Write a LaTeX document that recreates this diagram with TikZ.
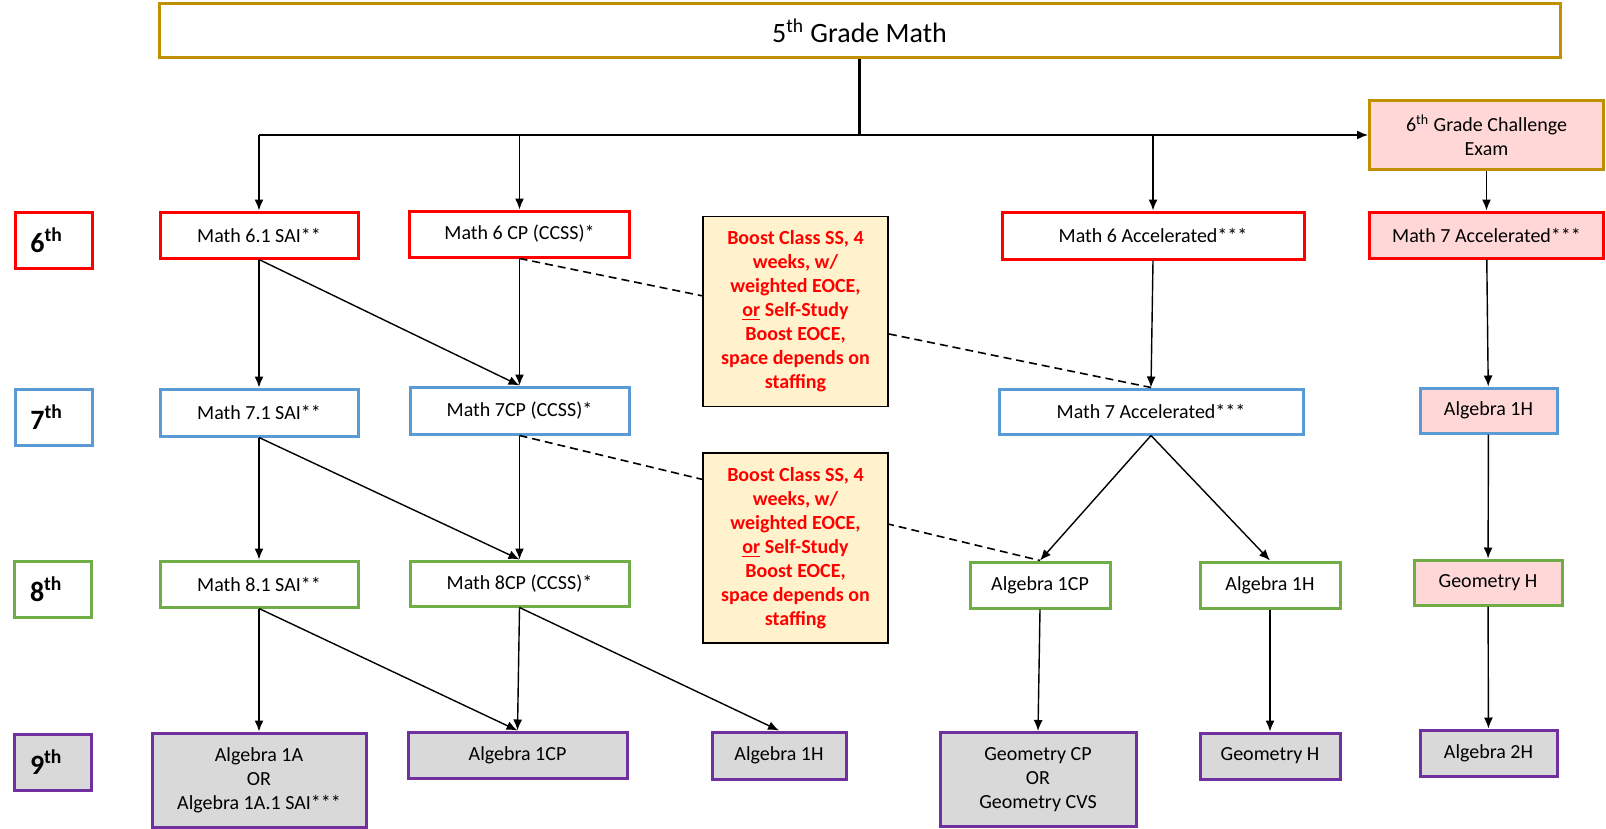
\documentclass[tikz,border=0pt]{standalone}
\usepackage{fontspec}
\setmainfont{Carlito}
\usetikzlibrary{arrows.meta}

\definecolor{ouro}{HTML}{BF9000}
\definecolor{rowred}{HTML}{FF0000}
\definecolor{rowblue}{HTML}{5B9BD5}
\definecolor{rowgreen}{HTML}{70AD47}
\definecolor{rowpurple}{HTML}{7030A0}
\definecolor{pinkfill}{HTML}{FFD7D7}
\definecolor{greyfill}{HTML}{D9D9D9}
\definecolor{boostfill}{HTML}{FFF2CC}

\begin{document}
\begin{tikzpicture}[x=0.5pt, y=-0.5pt,
        every node/.style={font=\fontsize{10}{12}\selectfont, align=center, inner sep=0pt},
        wh/.style 2 args={minimum width={#1*0.5pt}, minimum height={#2*0.5pt}},
        box/.style={draw, line width=1.5pt, fill=white},
        redbox/.style={box, draw=rowred},
        bluebox/.style={box, draw=rowblue},
        greenbox/.style={box, draw=rowgreen},
        purplebox/.style={box, draw=rowpurple, fill=greyfill},
        grade/.style={box, wh={77}{56}, text width=23pt, align=left, inner xsep=7.5pt,
            font=\fontsize{14}{16}\selectfont\bfseries},
        boost/.style={draw, line width=0.8pt, fill=boostfill, wh={185}{190}, text=rowred,
            font=\fontsize{10}{12}\selectfont\bfseries},
        arr/.style={-{Latex[length=5.5pt,width=4.5pt]}, line width=0.7pt},
        hubline/.style={line width=1.2pt},
        boostline/.style={line width=0.8pt, dash pattern=on 4pt off 2.5pt}]
        \useasboundingbox (0,0) rectangle (1606,829);

        \node[box, draw=ouro, wh={1401}{54}, font=\fontsize{14}{16}\selectfont] (top) at (859.5,31) {5\textsuperscript{th} Grade Math};
        \node[box, draw=ouro, fill=pinkfill, wh={234}{69}] (exam) at (1486.5,135) {6\textsuperscript{th} Grade Challenge\\Exam};

        \node[grade, draw=rowred] (g6) at (53.5,240) {6\textsuperscript{th}};
        \node[grade, draw=rowblue] (g7) at (53.5,417) {7\textsuperscript{th}};
        \node[grade, draw=rowgreen] (g8) at (53,589) {8\textsuperscript{th}};
        \node[grade, draw=rowpurple, fill=greyfill] (g9) at (53,762) {9\textsuperscript{th}};

        \node[redbox, wh={198}{46}] (m61) at (259,235) {Math 6.1 SAI**};
        \node[redbox, wh={220}{46}] (m6cp) at (519.5,234) {Math 6 CP (CCSS)*};
        \node[redbox, wh={302}{47}] (m6acc) at (1153,235.5) {Math 6 Accelerated***};
        \node[redbox, fill=pinkfill, wh={234}{46}] (m7accr) at (1486.5,235) {Math 7 Accelerated***};

        \node[bluebox, wh={198}{47}] (m71) at (259,412.5) {Math 7.1 SAI**};
        \node[bluebox, wh={219}{47}] (m7cp) at (519.5,410.5) {Math 7CP (CCSS)*};
        \node[bluebox, wh={304}{45}] (m7acc) at (1151,411.5) {Math 7 Accelerated***};
        \node[bluebox, fill=pinkfill, wh={137}{45}] (alg1hp) at (1488.5,410.5) {Algebra 1H};

        \node[greenbox, wh={198}{46}] (m81) at (259,584) {Math 8.1 SAI**};
        \node[greenbox, wh={219}{45}] (m8cp) at (519.5,583.5) {Math 8CP (CCSS)*};
        \node[greenbox, wh={140}{46}] (alg1cpg) at (1040,585) {Algebra 1CP};
        \node[greenbox, wh={140}{46}] (alg1hg) at (1270,585) {Algebra 1H};
        \node[greenbox, fill=pinkfill, wh={148}{45}] (geohp) at (1488,582.5) {Geometry H};

        \node[purplebox, wh={214}{94}] (alg1a) at (259,780) {Algebra 1A\\OR\\Algebra 1A.1 SAI***};
        \node[purplebox, wh={219}{46}] (alg1cpn) at (517.5,755) {Algebra 1CP};
        \node[purplebox, wh={134}{47}] (alg1hn) at (779,755.5) {Algebra 1H};
        \node[purplebox, wh={196}{94}] (geocp) at (1038,779.5) {Geometry CP\\OR\\Geometry CVS};
        \node[purplebox, wh={140}{46}] (geohn) at (1270,756) {Geometry H};
        \node[purplebox, wh={137}{46}] (alg2h) at (1488.5,753) {Algebra 2H};

        \draw[hubline] (top.south) -- (top.south |- exam.west);
        \draw[hubline, arr] (m61.north |- exam.west) -- (exam.west);
        \draw[arr] (m61.north |- exam.west) -- (m61.north);
        \draw[arr] (m6cp.north |- exam.west) -- (m6cp.north);
        \draw[arr] (m6acc.north |- exam.west) -- (m6acc.north);
        \draw[arr] (exam) -- (m7accr);

        \draw[boostline] (m6cp.south) -- (m7acc.north);
        \draw[boostline] (m7cp.south) -- (alg1cpg.north);
        \node[boost] (boosta) at (795.5,311.5) {Boost Class SS, 4\\weeks, w/\\weighted EOCE,\\\underline{or} Self-Study\\Boost EOCE,\\space depends on\\staffing};
        \node[boost] (boostb) at (795.5,548) {Boost Class SS, 4\\weeks, w/\\weighted EOCE,\\\underline{or} Self-Study\\Boost EOCE,\\space depends on\\staffing};

        \draw[arr] (m61.south) -- (m71.north);
        \draw[arr] (m61.south) -- (m7cp.north);
        \draw[arr] (m6cp.south) -- (m7cp.north);
        \draw[arr] (m6acc.south) -- (m7acc.north);
        \draw[arr] (m7accr) -- (alg1hp);

        \draw[arr] (m71.south) -- (m81.north);
        \draw[arr] (m71.south) -- (m8cp.north);
        \draw[arr] (m7cp.south) -- (m8cp.north);
        \draw[arr] (m7acc.south) -- (alg1cpg.north);
        \draw[arr] (m7acc.south) -- (alg1hg.north);
        \draw[arr] (alg1hp) -- (geohp);

        \draw[arr] (m81.south) -- (alg1a.north);
        \draw[arr] (m81.south) -- (alg1cpn.north);
        \draw[arr] (m8cp.south) -- (alg1cpn.north);
        \draw[arr] (m8cp.south) -- (alg1hn.north);
        \draw[arr] (alg1cpg.south) -- (geocp.north);
        \draw[arr] (alg1hg.south) -- (geohn.north);
        \draw[arr] (geohp) -- (alg2h);
    \end{tikzpicture}
\end{document}
